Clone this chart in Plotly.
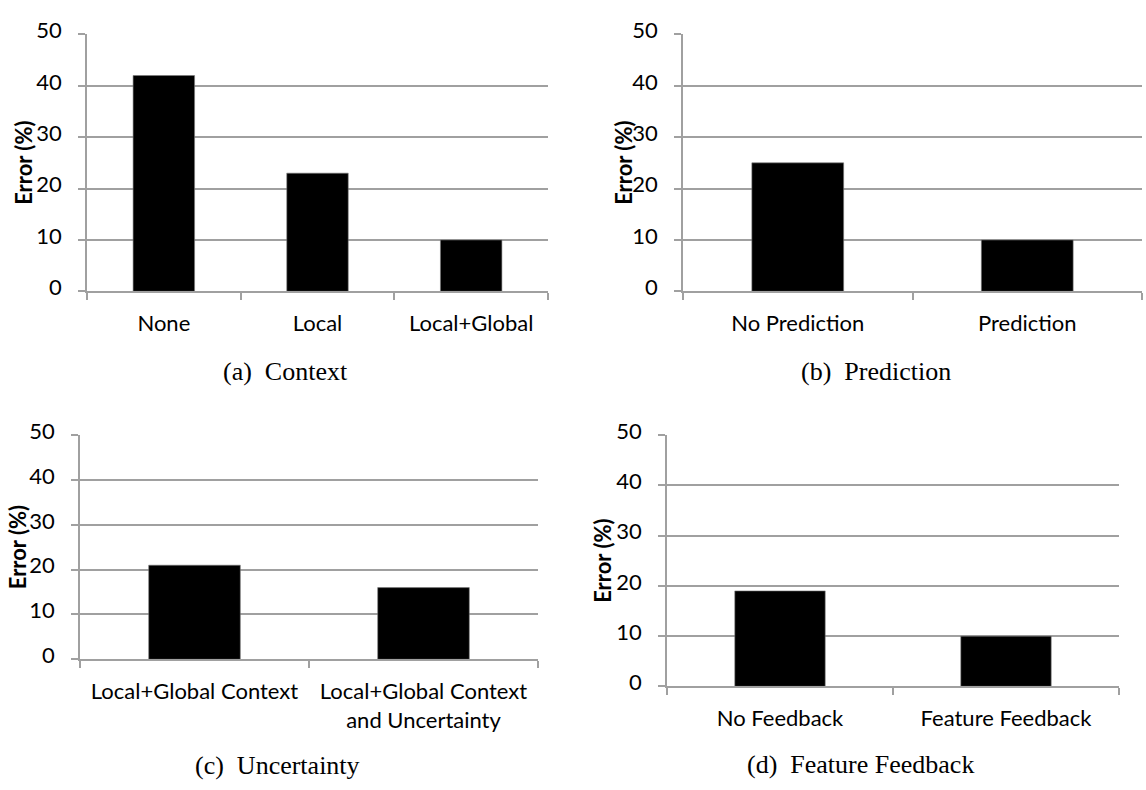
import plotly.graph_objects as go

# Error rates for each experiment (percent)
context_cats = ["None", "Local", "Local+Global"]
context_err = [42, 23, 10]

prediction_cats = ["No Prediction", "Prediction"]
prediction_err = [25, 10]

uncertainty_cats = ["Local+Global Context", "Local+Global Context<br>and Uncertainty"]
uncertainty_err = [21, 16]

feedback_cats = ["No Feedback", "Feature Feedback"]
feedback_err = [19, 10]

captions = ["(a)\u2002Context", "(b)\u2002Prediction", "(c)\u2002Uncertainty", "(d)\u2002Feature Feedback"]
y_title = "Error (%)"
y_ticks = [0, 10, 20, 30, 40, 50]

W, H = 1146, 790
GRAY = "#a0a0a0"
SANS = "Lato, 'Open Sans', sans-serif"
TICK_FONT = dict(family=SANS, size=22, color="#000000")


def px_x(v):
    return v / W


def px_y(v):
    return 1 - v / H


# panel boxes in pixels: (left, right, top, bottom)
panels = [
    (context_cats, context_err, (87, 548, 17, 283)),
    (prediction_cats, prediction_err, (683, 1142, 17, 283)),
    (uncertainty_cats, uncertainty_err, (80, 538, 432, 664)),
    (feedback_cats, feedback_err, (667, 1119, 432, 692)),
]
caption_pos = [(285, 366), (876, 366), (277, 774), (860, 773)]
ytitle_x = [24, 624, 17, 603]

fig = go.Figure()
layout = dict(
    width=W, height=H,
    margin=dict(l=0, r=0, t=0, b=0),
    paper_bgcolor="white", plot_bgcolor="white",
    showlegend=False, bargap=0.6,
    annotations=[],
)

for i, (cats, vals, (l, r, t, b)) in enumerate(panels):
    n = "" if i == 0 else str(i + 1)
    fig.add_trace(go.Bar(
        x=cats, y=vals, xaxis="x" + n, yaxis="y" + n,
        marker=dict(color="#000000", line=dict(color="#7a7a7a", width=0.6)),
        hoverinfo="x+y",
    ))
    layout["xaxis" + n] = dict(
        domain=[px_x(l), px_x(r)], anchor="y" + n,
        type="category",
        showline=True, linecolor=GRAY, linewidth=1.5,
        ticks="outside", tickson="boundaries", ticklen=7, tickcolor=GRAY, tickwidth=1.5,
        showgrid=False, tickfont=TICK_FONT, ticklabelstandoff=12,
        fixedrange=True,
    )
    layout["yaxis" + n] = dict(
        domain=[px_y(b), px_y(t)], anchor="x" + n,
        range=[0, 50], tickvals=y_ticks,
        showline=True, linecolor=GRAY, linewidth=1.5,
        showgrid=True, gridcolor=GRAY, gridwidth=1.5, zeroline=False,
        ticks="outside", ticklen=7, tickcolor=GRAY, tickwidth=1.5,
        tickfont=TICK_FONT, ticklabelstandoff=12, ticklabelshift=-4,
        fixedrange=True,
    )
    layout["annotations"].append(dict(
        text="<b>" + y_title + "</b>", textangle=-90,
        x=px_x(ytitle_x[i]), y=px_y((t + b) / 2),
        xref="paper", yref="paper", xanchor="center", yanchor="middle",
        showarrow=False, font=dict(family=SANS, size=22, color="#000000"),
    ))
    cx, cy = caption_pos[i]
    layout["annotations"].append(dict(
        text=captions[i], x=px_x(cx), y=px_y(cy),
        xref="paper", yref="paper", xanchor="center", yanchor="middle",
        showarrow=False,
        font=dict(family="'Liberation Serif', 'Times New Roman', serif", size=26, color="#000000"),
    ))

fig.update_layout(**layout)
fig.write_html("out.html")
